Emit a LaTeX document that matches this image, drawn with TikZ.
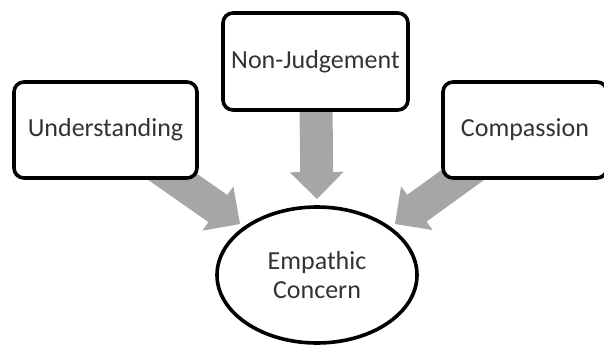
\documentclass[tikz,border=0pt]{standalone}
\usepackage{fontspec}
\setmainfont{Carlito}
\usetikzlibrary{calc,shapes.geometric}
\definecolor{arrowgray}{HTML}{A6A6A6}
\definecolor{textgray}{HTML}{333333}
\tikzset{
  box/.style={draw=black, line width=3.6pt, rounded corners=10pt, fill=white,
    text=textgray, font=\fontsize{26pt}{30pt}\selectfont, inner sep=0pt},
  oval/.style={ellipse, draw=black, line width=3.6pt, fill=white,
    text=textgray, font=\fontsize{26pt}{29pt}\selectfont, align=center, inner sep=0pt},
  blockarr/.style={fill=arrowgray, draw=none}
}
\newcommand{\blockarrow}[2]{%
  \coordinate (ba-b) at ($(#2)!27pt!(#1)$);
  \fill[blockarr] ($(#1)!16.5pt!90:(#2)$) -- ($(ba-b)!16.5pt!-90:(#1)$)
    -- ($(ba-b)!27pt!-90:(#1)$) -- (#2) -- ($(ba-b)!27pt!90:(#1)$)
    -- ($(ba-b)!16.5pt!90:(#1)$) -- ($(#1)!16.5pt!-90:(#2)$) -- cycle;
}
\begin{document}
\begin{tikzpicture}[x=1pt,y=-1pt]
\useasboundingbox (0,0) rectangle (604,345);
% positions
\coordinate (uc) at (105.5,130);
\coordinate (nc) at (315.5,61.5);
\coordinate (cc) at (525,130);
\coordinate (tipL) at (240,224);
\coordinate (tipM) at (317,199);
\coordinate (tipR) at (395,224);
% arrows (behind boxes)
\blockarrow{uc}{tipL}
\blockarrow{nc}{tipM}
\blockarrow{cc}{tipR}
% boxes
\node[box, minimum width=183pt, minimum height=96pt] (u) at (uc) {Understanding};
\node[box, minimum width=185pt, minimum height=97pt] (n) at (nc) {Non-Judgement};
\node[box, minimum width=164pt, minimum height=96pt] (c) at (cc) {Compassion};
\node[oval, minimum width=200pt, minimum height=136pt] (e) at (317,275) {Empathic\\Concern};
\end{tikzpicture}
\end{document}
